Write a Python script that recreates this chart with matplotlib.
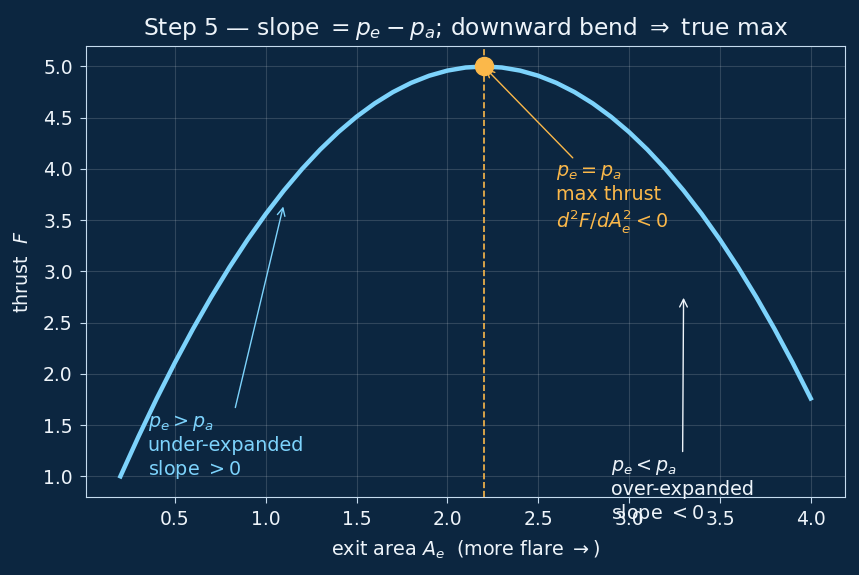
import numpy as np
import matplotlib
matplotlib.use("Agg")
from matplotlib import pyplot as plt

# exit area A_e and thrust F
area = [0.2, 0.3, 0.4, 0.5, 0.6, 0.7, 0.8, 0.9, 1.0, 1.1, 1.2, 1.3, 1.4,
        1.5, 1.6, 1.7, 1.8, 1.9, 2.0, 2.1, 2.2, 2.3, 2.4, 2.5, 2.6, 2.7,
        2.8, 2.9, 3.0, 3.1, 3.2, 3.3, 3.4, 3.5, 3.6, 3.7, 3.8, 3.9, 4.0]
thrust = [1.00, 1.39, 1.76, 2.11, 2.44, 2.75, 3.04, 3.31, 3.56, 3.79, 4.00,
          4.19, 4.36, 4.51, 4.64, 4.75, 4.84, 4.91, 4.96, 4.99, 5.00, 4.99,
          4.96, 4.91, 4.84, 4.75, 4.64, 4.51, 4.36, 4.19, 4.00, 3.79, 3.56,
          3.31, 3.04, 2.75, 2.44, 2.11, 1.76]
opt_area, opt_thrust = 2.2, 5.0

bg = '#0c2640'
curve_col = '#7dd3fc'
orange = '#fbb84a'
spine_col = '#c6dcef'
text_col = '#eef4fa'

fig = plt.figure(figsize=(8.59, 5.75), dpi=100, facecolor=bg)
ax = fig.add_axes([0.100, 0.136, 0.884, 0.784], facecolor=bg)

ax.plot(area, thrust, color=curve_col, lw=3.2, zorder=3)
ax.axvline(opt_area, color=orange, lw=1.2, ls='--', zorder=2)
ax.plot([opt_area], [opt_thrust], 'o', color=orange, ms=13, zorder=4)

ax.grid(True, color='#ffffff', alpha=0.15, lw=0.8)
for s in ax.spines.values():
    s.set_color(spine_col)
ax.tick_params(colors=spine_col, labelcolor=text_col, labelsize=13.5, length=4.5, pad=5)

ax.set_xlabel(r"exit area $A_e$  (more flare $\rightarrow$)", color=text_col,
              fontsize=13.8, labelpad=7)
ax.set_ylabel(r"thrust  $F$", color=text_col, fontsize=13.8, labelpad=8)
ax.set_title(r"Step 5 — slope $= p_e - p_a$; downward bend $\Rightarrow$ true max",
             color=text_col, fontsize=16.8, pad=8)

fs = 13.8
ax.annotate("$p_e > p_a$\nunder-expanded\nslope $> 0$", xy=(1.1, 3.66),
            xytext=(0.35, 0.95), va='bottom', ha='left', color=curve_col, fontsize=fs,
            arrowprops=dict(arrowstyle='->', color=curve_col, lw=1))
ax.annotate("$p_e = p_a$\nmax thrust\n$d^2F/dA_e^2 < 0$", xy=(opt_area, opt_thrust),
            xytext=(2.6, 3.36), va='bottom', ha='left', color=orange, fontsize=fs,
            arrowprops=dict(arrowstyle='->', color=orange, lw=1))
ax.annotate("$p_e < p_a$\nover-expanded\nslope $< 0$", xy=(3.3, 2.77),
            xytext=(2.9, 0.52), va='bottom', ha='left', color=text_col, fontsize=fs,
            arrowprops=dict(arrowstyle='->', color=text_col, lw=1))

fig.savefig('out.png', dpi=100, facecolor=bg)
